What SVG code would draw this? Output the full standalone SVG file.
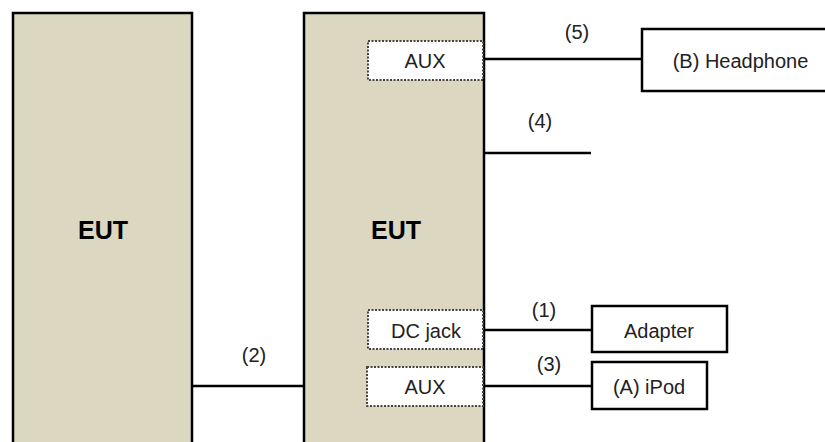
<svg xmlns="http://www.w3.org/2000/svg" width="825" height="442" viewBox="0 0 825 442">
<style>
.eut{fill:#dcd7c1;stroke:#000;stroke-width:2.5}
.port{fill:#fff;stroke:#444;stroke-width:2;stroke-dasharray:2 1.5}
.dev{fill:#fff;stroke:#000;stroke-width:2.5}
.t{font-family:"Liberation Sans",Arial,sans-serif;font-size:20px;fill:#222;text-anchor:middle}
.b{font-family:"Liberation Sans",Arial,sans-serif;font-size:25px;font-weight:bold;fill:#000;text-anchor:middle}
.c{stroke:#000;stroke-width:2.5;fill:none}
</style>
<rect width="825" height="442" fill="#fff"/>
<g id="eut1">
<rect class="eut" x="13" y="13" width="179" height="440"/>
<text class="b" x="103" y="239">EUT</text>
</g>
<g id="eut2">
<rect class="eut" x="304" y="13" width="180" height="440"/>
<text class="b" x="396" y="239">EUT</text>
</g>
<g id="aux-top">
<rect class="port" x="368" y="41" width="115" height="39"/>
<text class="t" x="425" y="68">AUX</text>
</g>
<g id="dcjack">
<rect class="port" x="368" y="310" width="115" height="39"/>
<text class="t" x="426" y="337.5">DC jack</text>
</g>
<g id="aux-bottom">
<rect class="port" x="367" y="367" width="116" height="39"/>
<text class="t" x="425" y="394">AUX</text>
</g>
<g id="headphone">
<rect class="dev" x="642" y="29" width="200" height="62"/>
<text class="t" x="740.5" y="68">(B) Headphone</text>
</g>
<g id="adapter">
<rect class="dev" x="592" y="306" width="135" height="46"/>
<text class="t" x="659" y="337.5">Adapter</text>
</g>
<g id="ipod">
<rect class="dev" x="592" y="362" width="115" height="47"/>
<text class="t" x="649" y="394">(A) iPod</text>
</g>
<g id="connectors">
<line class="c" x1="484" y1="59" x2="642" y2="59"/>
<line class="c" x1="484" y1="153" x2="591" y2="153"/>
<line class="c" x1="484" y1="330" x2="592" y2="330"/>
<line class="c" x1="484" y1="386" x2="592" y2="386"/>
<line class="c" x1="192" y1="386" x2="304" y2="386"/>
<text class="t" x="577" y="39">(5)</text>
<text class="t" x="540" y="128">(4)</text>
<text class="t" x="544" y="317">(1)</text>
<text class="t" x="549" y="371">(3)</text>
<text class="t" x="254" y="362">(2)</text>
</g>
</svg>
